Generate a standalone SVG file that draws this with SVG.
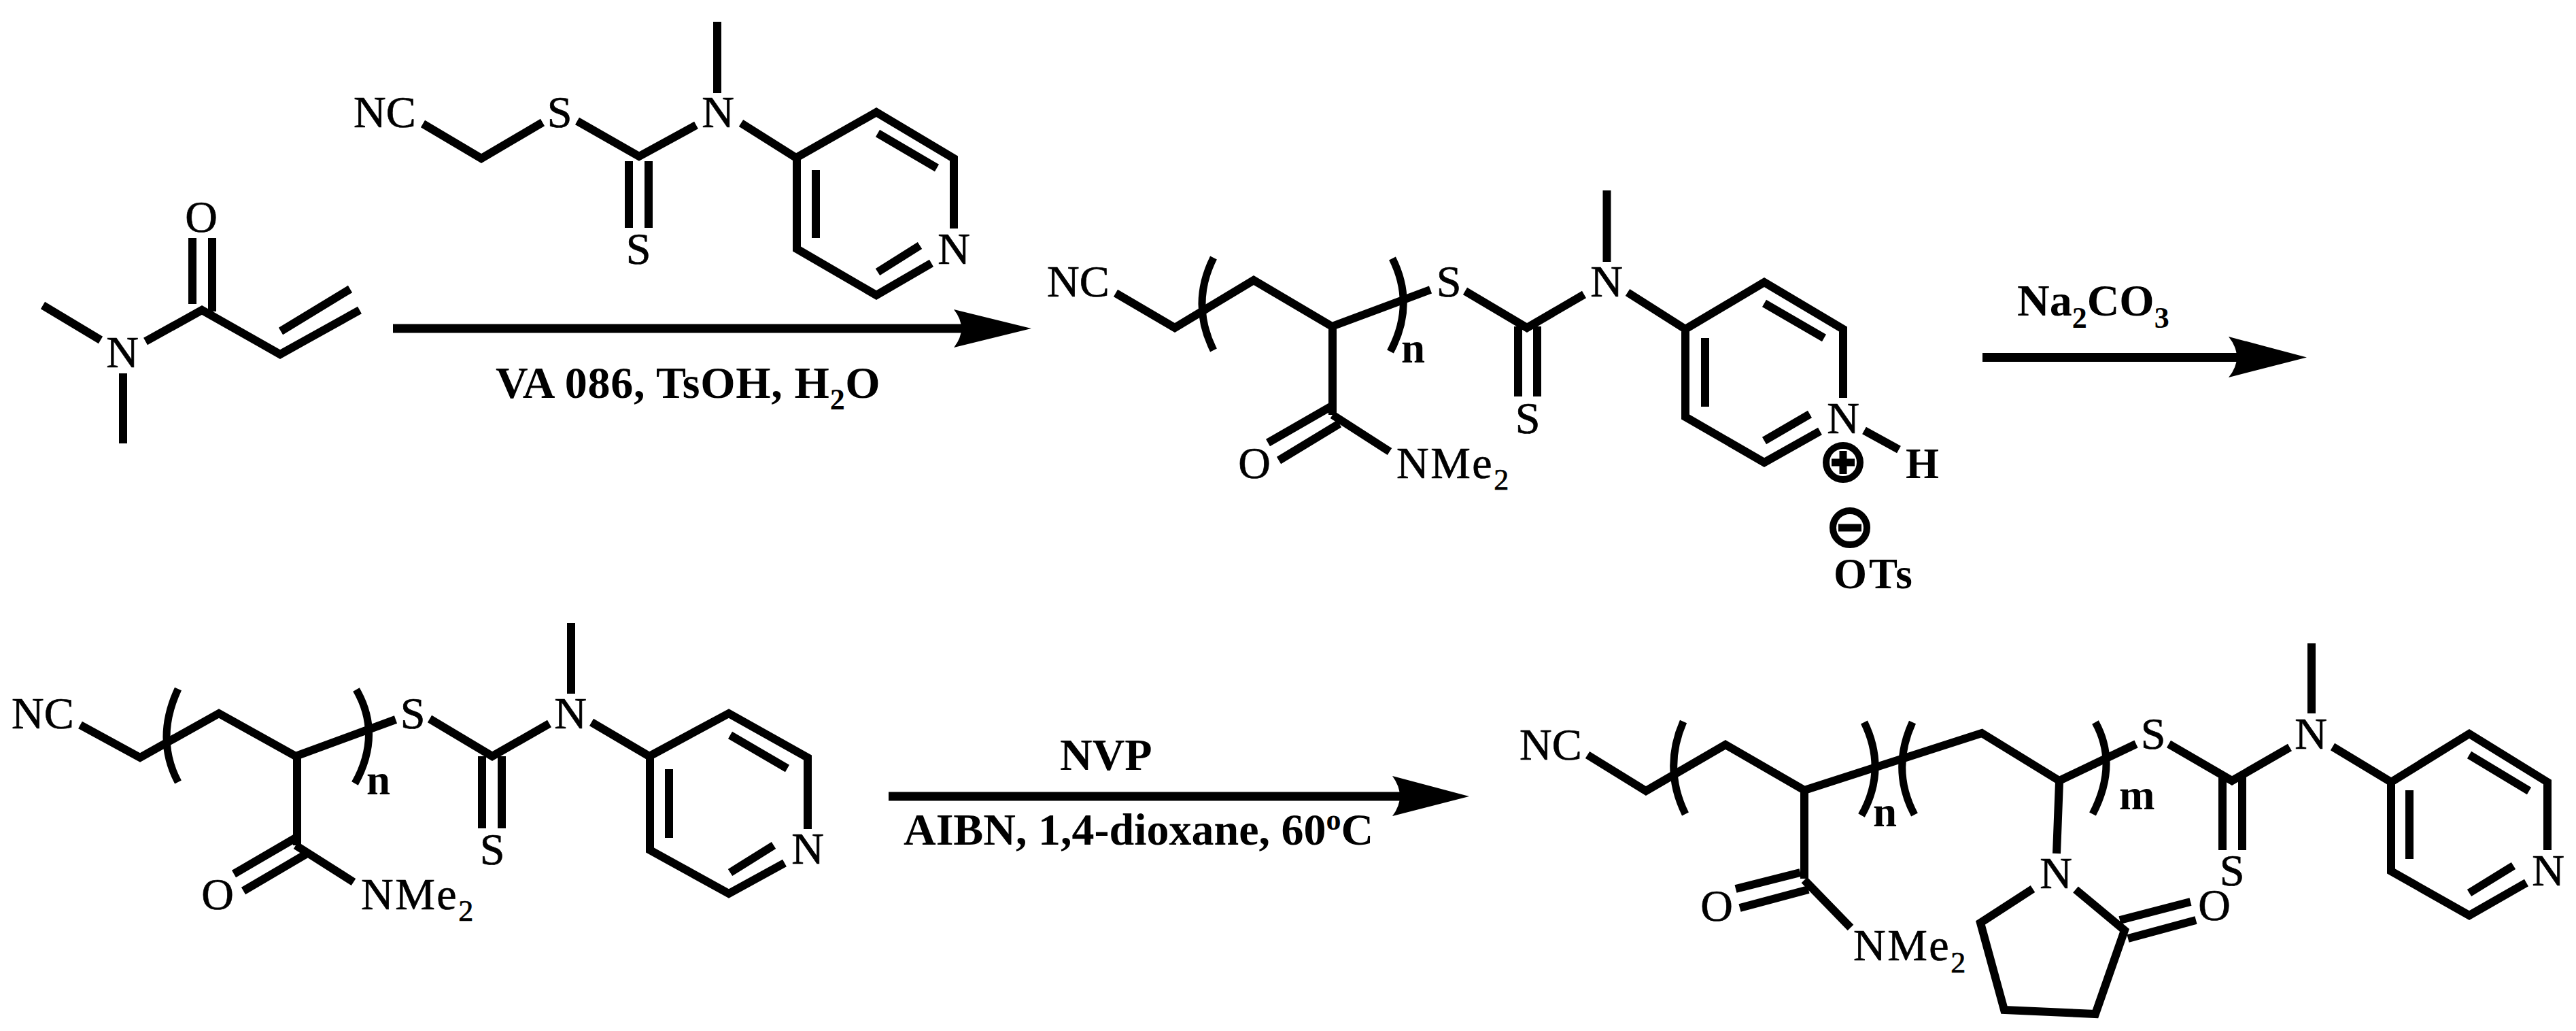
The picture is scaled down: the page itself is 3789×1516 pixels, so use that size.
<svg xmlns="http://www.w3.org/2000/svg" width="3789" height="1516" viewBox="0 0 3789 1516">
<style>
text{font-family:"Liberation Serif","Times New Roman",serif;font-size:66px;fill:#000;stroke:#000;stroke-width:.7px}
.c{text-anchor:middle}
.b{font-weight:bold;stroke-width:0}
.i{font-weight:bold;stroke-width:0;font-size:63px}
.s{font-size:44px}
.m{letter-spacing:2.5px}
.ots{letter-spacing:3px}
.va{letter-spacing:.7px}
path{fill:none;stroke:#000;stroke-width:12;stroke-linejoin:miter;stroke-miterlimit:10}
.br{stroke-width:11}
.ch{fill:none;stroke:#000;stroke-width:10}
.sg{stroke-width:11}
.line{stroke-width:13}
.head{fill:#000;stroke:none}
</style>
<rect width="3789" height="1516" fill="#fff"/>
<g id="dmaa">
<path d="M63 449L148 500M214 502L297 456L412 521L529 456M413 487L515 425M283 350V447M312 350V458M181 549V652"/>
<text class="c" x="180" y="540">N</text>
<text class="c" x="296" y="341">O</text>
</g>
<g id="cta">
<path d="M622 182L708 233L798 180M849 178L940 230L1024 184M1055 32V137M1090 181L1171 232L1289 165L1403 233V336M1172 232V366L1289 434L1370 387M1291 196L1378 247M1200 250V350M1291 400L1353 361M925 237V335M954 237V335"/>
<text x="520" y="187">NC</text>
<text class="c" x="823" y="187">S</text>
<text class="c" x="1056" y="187">N</text>
<text class="c" x="939" y="388">S</text>
<text class="c" x="1403" y="388">N</text>
</g>
<g id="macro-cta-salt">
<path d="M1641 431L1728 482L1844 412L1959 480L2104 426M1960 480V610M2155 428L2246 482L2330 433M1959 597L1865 651M1970 623L1881 677M1960 610L2044 664M2233 480V583M2261 480V583M2363.500 280V385M2394 430L2479 484L2595 415L2711 484V585M2479 484V613L2595 680L2677 634M2595 446L2683 497M2508 497V598M2595 648L2662 609M2742 633L2793 661"/>
<path class="br" d="M1785 379Q1751 447 1785 515M2048 380Q2082 448 2045 517"/>
<text x="1540" y="436">NC</text>
<text class="c" x="2131" y="436">S</text>
<text class="c" x="2363" y="436">N</text>
<text class="c" x="2247" y="637">S</text>
<text class="c" x="1845" y="703">O</text>
<text class="m" x="2054" y="703">NMe<tspan class="s" dy="17">2</tspan></text>
<text class="i" x="2061" y="533">n</text>
<text class="c" x="2711" y="637">N</text>
<text class="i" x="2803" y="703">H</text>
<circle class="ch" cx="2711" cy="680" r="25"/>
<path class="sg" d="M2694 680H2728M2711 663V697"/>
<circle class="ch" cx="2721" cy="776" r="25"/>
<path class="sg" d="M2704 776H2738"/>
<text class="i ots" x="2697" y="865">OTs</text>
</g>
<g id="macro-cta">
<path d="M118 1066L206 1114L322 1049L435 1112L582 1058M437 1112V1243M632 1057L724 1112L808 1064M435 1232L344 1285M450 1256L358 1310M435 1243L520 1297M709 1112V1218M738 1112V1218M840 916V1020M870 1062L955 1112L1072 1049L1188 1114V1219M956 1112V1250L1072 1314L1154 1269M1074 1081L1158 1130M984 1131V1232M1074 1283L1138 1243"/>
<path class="br" d="M262 1013Q228 1086 262 1150M524 1014Q562 1080 522 1152"/>
<text x="17" y="1071">NC</text>
<text class="c" x="607" y="1071">S</text>
<text class="c" x="839" y="1071">N</text>
<text class="c" x="724" y="1271">S</text>
<text class="c" x="320" y="1337">O</text>
<text class="m" x="531" y="1337">NMe<tspan class="s" dy="17">2</tspan></text>
<text class="i" x="539" y="1168">n</text>
<text class="c" x="1188" y="1270">N</text>
</g>
<g id="block-copolymer">
<path d="M2335 1110L2421 1163L2538 1095L2654 1162L2915 1078L3029 1148L3142 1094M2654 1162V1292M2648 1283L2553 1307M2660 1308L2559 1335M2654 1294L2722 1364M3029 1150L3025 1255M2990 1307L2913 1357L2948 1485L3082 1491L3125 1368L3053 1308M3118 1353L3222 1326M3130 1380L3230 1353M3190 1094L3283 1148L3368 1099M3269 1140V1250M3298 1140V1250M3400 946V1049M3431 1098L3517 1150L3632 1079L3747 1150V1250M3517 1150V1281L3632 1346L3716 1298M3632 1110L3720 1163M3544 1162V1263M3632 1313L3697 1273"/>
<path class="br" d="M2476 1061Q2446 1130 2479 1197M2742 1062Q2776 1132 2738 1199M2813 1062Q2781 1132 2816 1198M3082 1062Q3116 1124 3078 1197"/>
<text x="2235" y="1117">NC</text>
<text class="c" x="3167" y="1101">S</text>
<text class="c" x="3399" y="1101">N</text>
<text class="c" x="3283" y="1302">S</text>
<text class="c" x="3748" y="1302">N</text>
<text class="c" x="3024" y="1306">N</text>
<text class="c" x="2525" y="1354">O</text>
<text class="c" x="3257" y="1353">O</text>
<text class="m" x="2726" y="1412">NMe<tspan class="s" dy="18">2</tspan></text>
<text class="i" x="2755" y="1215">n</text>
<text class="i" x="3117" y="1190">m</text>
</g>
<g id="connectors">
<path class="line" d="M578 483H1420"/>
<path class="head" d="M1517 483L1403 455Q1425 483 1403 511Z"/>
<path class="line" d="M2916 525.500H3295"/>
<path class="head" d="M3393 525.500L3278 495Q3302 525.500 3278 555Z"/>
<path class="line" d="M1307 1171H2065"/>
<path class="head" d="M2161 1171L2048 1141Q2070 1171 2048 1200Z"/>
</g>
<g id="reagents">
<text class="b va" x="729" y="585">VA 086, TsOH, H<tspan class="s" dy="17">2</tspan><tspan dy="-17">O</tspan></text>
<text class="b" x="2967" y="464">Na<tspan class="s" dy="18">2</tspan><tspan dy="-18">CO</tspan><tspan class="s" dy="18">3</tspan></text>
<text class="b" x="1559" y="1132">NVP</text>
<text class="b" x="1329" y="1242">AIBN, 1,4-dioxane, 60<tspan class="s" dy="-22">o</tspan><tspan dy="22">C</tspan></text>
</g>
</svg>
